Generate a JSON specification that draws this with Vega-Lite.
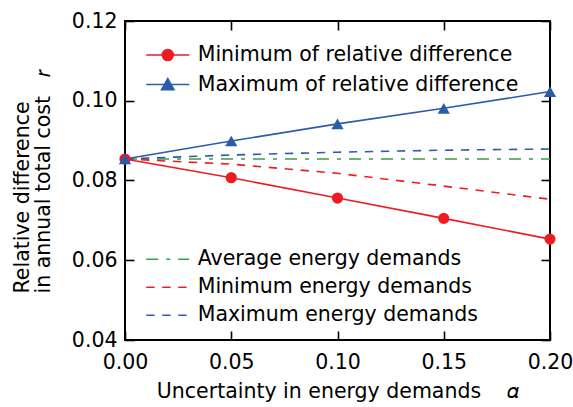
{
  "$schema": "https://vega.github.io/schema/vega-lite/v6.json",
  "width": 425,
  "height": 319,
  "autosize": "none",
  "padding": {"left": 125, "top": 21, "right": 23, "bottom": 67},
  "config": {
    "font": "DejaVu Sans",
    "view": {"stroke": "black", "strokeWidth": 2},
    "axis": {
      "grid": false,
      "domain": false,
      "tickColor": "black",
      "tickWidth": 1.6,
      "tickSize": -9,
      "labelFont": "DejaVu Sans",
      "labelFontSize": 20.5,
      "labelColor": "black",
      "titleFont": "DejaVu Sans",
      "titleFontSize": 20.5,
      "titleFontWeight": "normal",
      "titleColor": "black",
      "labelFlush": false,
      "labelOverlap": false
    },
    "legend": {
      "labelFont": "DejaVu Sans",
      "labelFontSize": 20.5,
      "labelColor": "black",
      "padding": 0,
      "rowPadding": 7,
      "symbolStrokeWidth": 1.6,
      "labelLimit": 500
    }
  },
  "datasets": {
    "solid": [
      {"series": "Minimum of relative difference", "alpha": 0.0, "r": 0.0854},
      {"series": "Minimum of relative difference", "alpha": 0.05, "r": 0.0807},
      {"series": "Minimum of relative difference", "alpha": 0.10, "r": 0.0756},
      {"series": "Minimum of relative difference", "alpha": 0.15, "r": 0.0705},
      {"series": "Minimum of relative difference", "alpha": 0.20, "r": 0.0653},
      {"series": "Maximum of relative difference", "alpha": 0.0, "r": 0.0854},
      {"series": "Maximum of relative difference", "alpha": 0.05, "r": 0.0899},
      {"series": "Maximum of relative difference", "alpha": 0.10, "r": 0.0942},
      {"series": "Maximum of relative difference", "alpha": 0.15, "r": 0.0981},
      {"series": "Maximum of relative difference", "alpha": 0.20, "r": 0.1023}
    ],
    "dashed": [
      {"demand": "Average energy demands", "alpha": 0.0, "r": 0.0854},
      {"demand": "Average energy demands", "alpha": 0.05, "r": 0.0854},
      {"demand": "Average energy demands", "alpha": 0.10, "r": 0.0854},
      {"demand": "Average energy demands", "alpha": 0.15, "r": 0.0854},
      {"demand": "Average energy demands", "alpha": 0.20, "r": 0.0854},
      {"demand": "Minimum energy demands", "alpha": 0.0, "r": 0.0854},
      {"demand": "Minimum energy demands", "alpha": 0.05, "r": 0.0841},
      {"demand": "Minimum energy demands", "alpha": 0.10, "r": 0.0818},
      {"demand": "Minimum energy demands", "alpha": 0.15, "r": 0.0786},
      {"demand": "Minimum energy demands", "alpha": 0.20, "r": 0.0753},
      {"demand": "Maximum energy demands", "alpha": 0.0, "r": 0.0854},
      {"demand": "Maximum energy demands", "alpha": 0.05, "r": 0.0864},
      {"demand": "Maximum energy demands", "alpha": 0.10, "r": 0.0871},
      {"demand": "Maximum energy demands", "alpha": 0.15, "r": 0.0876},
      {"demand": "Maximum energy demands", "alpha": 0.20, "r": 0.0879}
    ]
  },
  "layer": [
    {
      "data": {"name": "dashed"},
      "mark": {"type": "line", "strokeWidth": 1.6},
      "encoding": {
        "x": {
          "field": "alpha", "type": "quantitative",
          "scale": {"domain": [0, 0.2], "nice": false, "zero": false},
          "axis": {"orient": "top", "labels": false, "title": null, "values": [0, 0.05, 0.1, 0.15, 0.2]}
        },
        "y": {
          "field": "r", "type": "quantitative",
          "scale": {"domain": [0.04, 0.12], "nice": false, "zero": false},
          "axis": {"orient": "right", "labels": false, "title": null, "values": [0.04, 0.06, 0.08, 0.1, 0.12]}
        },
        "stroke": {
          "field": "demand", "type": "nominal",
          "scale": {"domain": ["Average energy demands", "Minimum energy demands", "Maximum energy demands"], "range": ["#3c9c48", "#ed1c24", "#2b5caa"]},
          "legend": {
            "orient": "none", "legendX": 32.5, "legendY": 228, "title": null,
            "symbolType": "M-4,0H4", "symbolSize": 115.6, "labelOffset": 19.7
          }
        },
        "strokeDash": {
          "field": "demand", "type": "nominal",
          "scale": {"domain": ["Average energy demands", "Minimum energy demands", "Maximum energy demands"], "range": [[12, 8, 4, 8], [8.3, 7.7], [8.3, 7.7]]},
          "legend": {
            "orient": "none", "legendX": 32.5, "legendY": 228, "title": null,
            "symbolType": "M-4,0H4", "symbolSize": 115.6, "labelOffset": 19.7
          }
        }
      }
    },
    {
      "data": {"name": "solid"},
      "mark": {"type": "line", "strokeWidth": 1.6},
      "encoding": {
        "x": {
          "field": "alpha", "type": "quantitative",
          "axis": {"orient": "bottom", "values": [0, 0.05, 0.1, 0.15, 0.2], "format": ".2f", "labelPadding": 21,
            "title": "Uncertainty in energy demands\u00a0\u00a0\u00a0\u00a0𝛼", "titleBaseline": "alphabetic", "titleY": 57}
        },
        "y": {
          "field": "r", "type": "quantitative",
          "axis": {"orient": "left", "values": [0.04, 0.06, 0.08, 0.1, 0.12], "format": ".2f", "labelPadding": 17,
            "title": ["Relative difference", "in annual total cost\u00a0\u00a0\u00a0𝑟"], "titleAngle": -90, "titleAlign": "left",
            "titleBaseline": "alphabetic", "titleX": -96.5, "titleY": 272, "titleLineHeight": 20.5}
        },
        "color": {
          "field": "series", "type": "nominal",
          "scale": {"domain": ["Minimum of relative difference", "Maximum of relative difference"], "range": ["#ed1c24", "#2b5caa"]},
          "legend": {
            "orient": "none", "legendX": 32.5, "legendY": 23.7, "title": null, "rowPadding": 8.6,
            "symbolType": "M-4,0H4", "symbolSize": 115.6, "labelOffset": 19.7,
            "encode": {
              "symbols": {
                "update": {
                  "shape": {"signal": "datum.value === 'Minimum of relative difference' ? 'M-4,0H4M1.02,0A1.02,1.02 0 1,1 -1.02,0A1.02,1.02 0 1,1 1.02,0Z' : 'M-4,0H4M0,-1.08L1.15,0.97L-1.15,0.97Z'"},
                  "fill": {"signal": "datum.value === 'Minimum of relative difference' ? '#ed1c24' : '#2b5caa'"},
                  "stroke": {"signal": "datum.value === 'Minimum of relative difference' ? '#ed1c24' : '#2b5caa'"},
                  "strokeWidth": {"value": 1.6},
                  "opacity": {"value": 1},
                  "fillOpacity": {"value": 1}
                }
              }
            }
          }
        }
      }
    },
    {
      "data": {"name": "solid"},
      "transform": [{"filter": "datum.series === 'Minimum of relative difference'"}],
      "mark": {"type": "point", "shape": "circle", "filled": true, "opacity": 1, "color": "#ed1c24", "size": 125},
      "encoding": {
        "x": {"field": "alpha", "type": "quantitative", "axis": null},
        "y": {"field": "r", "type": "quantitative", "axis": null}
      }
    },
    {
      "data": {"name": "solid"},
      "transform": [{"filter": "datum.series === 'Maximum of relative difference'"}],
      "mark": {"type": "point", "shape": "triangle-up", "filled": true, "opacity": 1, "color": "#2b5caa", "size": 150},
      "encoding": {
        "x": {"field": "alpha", "type": "quantitative", "axis": null},
        "y": {"field": "r", "type": "quantitative", "axis": null}
      }
    }
  ]
}
